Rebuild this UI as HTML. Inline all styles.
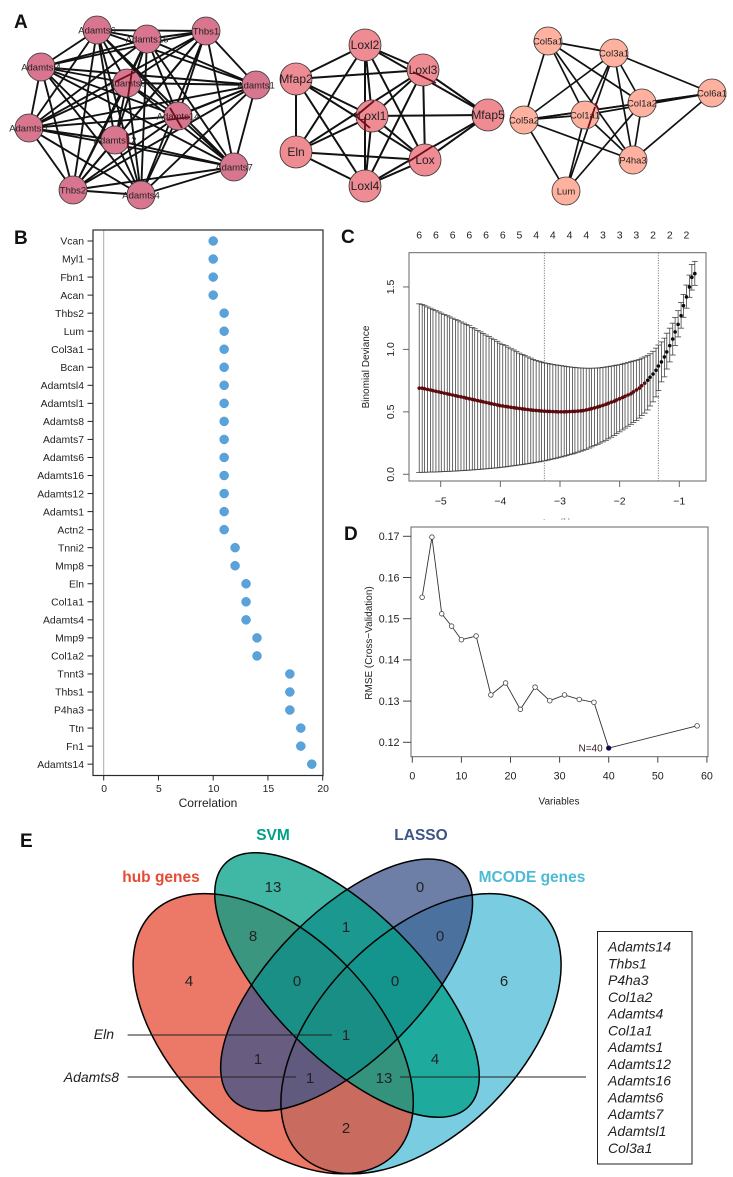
<!DOCTYPE html>
<html lang="en">
<head>
<meta charset="utf-8">
<title>Hub gene figure</title>
<style>
html,body{margin:0;padding:0;background:#fff;width:733px;height:1177px;overflow:hidden}
svg{display:block;position:absolute;left:0;top:0;font-family:"Liberation Sans",sans-serif;filter:blur(.3px)}
.letter{font-size:19px;font-weight:bold;fill:#111}
.venn-num{font-size:15px;fill:#222;text-anchor:middle}
.gene{font-size:14px;font-style:italic;fill:#222}
.venn-title{font-size:15.5px;font-weight:bold;text-anchor:middle}
</style>
</head>
<body>
<svg id="fig" width="733" height="1177" viewBox="0 0 733 1177" xmlns="http://www.w3.org/2000/svg">
  <defs>
    <clipPath id="cropXTitle"><rect x="530" y="516" width="50" height="3.5"/></clipPath>
  </defs>
  <rect width="733" height="1177" fill="#fff"/>
  <text class="letter" x="14" y="28">A</text>
  <text class="letter" x="14" y="244">B</text>
  <text class="letter" x="341" y="243">C</text>
  <text class="letter" x="344" y="540">D</text>
  <text class="letter" x="20" y="847">E</text>

  <g id="networks"></g>
  <g stroke="#6a0f1c" stroke-width="1.8" fill="none">
    <line x1="115" y1="82" x2="137" y2="71"/>
    <line x1="132" y1="71" x2="128" y2="97"/>
    <line x1="170" y1="108" x2="182" y2="128"/>
    <line x1="167" y1="120" x2="190" y2="117"/>
    <line x1="127" y1="133" x2="128" y2="147"/>
    <line x1="374" y1="101" x2="356" y2="116"/>
    <line x1="356" y1="116" x2="370" y2="128"/>
    <line x1="365" y1="117" x2="365" y2="131"/>
    <line x1="408" y1="162" x2="433" y2="146"/>
    <line x1="413" y1="72" x2="436" y2="83"/>
    <line x1="595" y1="103" x2="599" y2="110"/>
    <line x1="595" y1="107" x2="588" y2="128"/>
  </g>
  <g id="panelB"></g>
  <g id="panelC"></g>
  <text clip-path="url(#cropXTitle)" x="557" y="526" text-anchor="middle" font-size="10" fill="#333">Log(λ)</text>
  <g id="panelD"></g>

  <g id="venn">
    <ellipse cx="421" cy="1033.7" rx="171" ry="100" transform="rotate(-45 421 1033.7)" fill="#4DBBD5" fill-opacity=".75"/>
    <ellipse cx="273.2" cy="1033.7" rx="171" ry="100" transform="rotate(45 273.2 1033.7)" fill="#E64B35" fill-opacity=".75"/>
    <ellipse cx="346.6" cy="985" rx="162" ry="74" transform="rotate(-45 346.6 985)" fill="#3C5488" fill-opacity=".75"/>
    <ellipse cx="347" cy="985" rx="172" ry="73.5" transform="rotate(45 347 985)" fill="#00A087" fill-opacity=".75"/>
    <g fill="none" stroke="#000" stroke-width="1.5">
      <ellipse cx="421" cy="1033.7" rx="171" ry="100" transform="rotate(-45 421 1033.7)"/>
      <ellipse cx="273.2" cy="1033.7" rx="171" ry="100" transform="rotate(45 273.2 1033.7)"/>
      <ellipse cx="346.6" cy="985" rx="162" ry="74" transform="rotate(-45 346.6 985)"/>
      <ellipse cx="347" cy="985" rx="172" ry="73.5" transform="rotate(45 347 985)"/>
    </g>
    <text class="venn-title" x="273" y="840" fill="#00A087">SVM</text>
    <text class="venn-title" x="421" y="840" fill="#3C5488">LASSO</text>
    <text class="venn-title" x="161" y="882" fill="#E64B35">hub genes</text>
    <text class="venn-title" x="532" y="882" fill="#4DBBD5">MCODE genes</text>
    <text class="venn-num" x="273" y="892">13</text>
    <text class="venn-num" x="420" y="892">0</text>
    <text class="venn-num" x="253" y="941">8</text>
    <text class="venn-num" x="346" y="932">1</text>
    <text class="venn-num" x="440" y="941">0</text>
    <text class="venn-num" x="189" y="986">4</text>
    <text class="venn-num" x="297" y="986">0</text>
    <text class="venn-num" x="395" y="986">0</text>
    <text class="venn-num" x="504" y="986">6</text>
    <text class="venn-num" x="346" y="1040">1</text>
    <text class="venn-num" x="258" y="1064">1</text>
    <text class="venn-num" x="435" y="1064">4</text>
    <text class="venn-num" x="310" y="1083">1</text>
    <text class="venn-num" x="384" y="1083">13</text>
    <text class="venn-num" x="346" y="1133">2</text>
    <line x1="127.6" y1="1035" x2="332" y2="1035" stroke="#222" stroke-width="1"/>
    <line x1="127.6" y1="1077" x2="296" y2="1077" stroke="#222" stroke-width="1"/>
    <line x1="400" y1="1077" x2="586" y2="1077" stroke="#222" stroke-width="1"/>
    <text class="gene" x="114" y="1039" text-anchor="end">Eln</text>
    <text class="gene" x="119" y="1082" text-anchor="end">Adamts8</text>
    <rect x="597.5" y="931.5" width="94.5" height="232.5" fill="#fff" stroke="#222" stroke-width="1"/>
    <g>
      <text class="gene" x="608" y="951.5">Adamts14</text>
      <text class="gene" x="608" y="968.3">Thbs1</text>
      <text class="gene" x="608" y="985">P4ha3</text>
      <text class="gene" x="608" y="1001.8">Col1a2</text>
      <text class="gene" x="608" y="1018.6">Adamts4</text>
      <text class="gene" x="608" y="1035.4">Col1a1</text>
      <text class="gene" x="608" y="1052.1">Adamts1</text>
      <text class="gene" x="608" y="1068.9">Adamts12</text>
      <text class="gene" x="608" y="1085.7">Adamts16</text>
      <text class="gene" x="608" y="1102.4">Adamts6</text>
      <text class="gene" x="608" y="1119.2">Adamts7</text>
      <text class="gene" x="608" y="1136">Adamtsl1</text>
      <text class="gene" x="608" y="1152.8">Col3a1</text>
    </g>
  </g>
</svg>

<script>
// ---------- Panel B data ----------
const corrGenes = ["Vcan","Myl1","Fbn1","Acan","Thbs2","Lum","Col3a1","Bcan","Adamtsl4","Adamtsl1","Adamts8","Adamts7","Adamts6","Adamts16","Adamts12","Adamts1","Actn2","Tnni2","Mmp8","Eln","Col1a1","Adamts4","Mmp9","Col1a2","Tnnt3","Thbs1","P4ha3","Ttn","Fn1","Adamts14"];
const corrValues = [10,10,10,10,11,11,11,11,11,11,11,11,11,11,11,11,11,12,12,13,13,13,14,14,17,17,17,18,18,19];
const corrTicks = [0,5,10,15,20];

// ---------- Panel C data ----------
const logLambda = [-5.36,-5.31,-5.27,-5.22,-5.17,-5.13,-5.08,-5.03,-4.99,-4.94,-4.89,-4.85,-4.80,-4.75,-4.71,-4.66,-4.61,-4.57,-4.52,-4.47,-4.43,-4.38,-4.33,-4.29,-4.24,-4.19,-4.15,-4.10,-4.05,-4.01,-3.96,-3.91,-3.87,-3.82,-3.77,-3.73,-3.68,-3.63,-3.59,-3.54,-3.49,-3.45,-3.40,-3.35,-3.31,-3.26,-3.21,-3.17,-3.12,-3.07,-3.03,-2.98,-2.93,-2.89,-2.84,-2.79,-2.75,-2.70,-2.65,-2.61,-2.56,-2.51,-2.47,-2.42,-2.37,-2.33,-2.28,-2.23,-2.19,-2.14,-2.09,-2.05,-2.00,-1.95,-1.91,-1.86,-1.81,-1.77,-1.72,-1.67,-1.63,-1.58,-1.53,-1.49,-1.44,-1.39,-1.35,-1.30,-1.25,-1.21,-1.16,-1.11,-1.07,-1.02,-0.97,-0.93,-0.88,-0.83,-0.79,-0.74];
const devMean = [.69,.69,.685,.68,.675,.67,.665,.66,.655,.65,.645,.64,.635,.63,.625,.62,.615,.61,.605,.60,.595,.59,.585,.58,.575,.57,.565,.56,.555,.55,.547,.543,.54,.536,.533,.53,.527,.524,.521,.518,.515,.513,.511,.509,.507,.505,.504,.503,.502,.501,.50,.50,.50,.501,.502,.503,.504,.506,.508,.51,.515,.52,.526,.532,.538,.545,.552,.56,.568,.577,.585,.595,.605,.615,.625,.635,.645,.66,.675,.69,.71,.73,.753,.777,.803,.833,.867,.90,.94,.98,1.03,1.083,1.14,1.20,1.27,1.35,1.42,1.50,1.577,1.607];
const devUpper = [1.365,1.36,1.35,1.34,1.33,1.32,1.31,1.30,1.29,1.28,1.27,1.26,1.25,1.24,1.23,1.22,1.21,1.20,1.19,1.175,1.165,1.152,1.14,1.128,1.115,1.103,1.09,1.078,1.065,1.05,1.04,1.03,1.018,1.005,.995,.982,.97,.96,.95,.94,.93,.92,.912,.905,.898,.892,.888,.884,.88,.876,.873,.87,.866,.863,.86,.857,.855,.853,.851,.85,.849,.849,.849,.85,.851,.853,.856,.859,.862,.866,.87,.874,.878,.883,.889,.895,.901,.907,.913,.92,.93,.94,.95,.965,.985,1.01,1.035,1.06,1.09,1.13,1.17,1.21,1.255,1.31,1.375,1.44,1.515,1.595,1.68,1.705];
const devLower = [.015,.016,.016,.017,.018,.018,.019,.02,.021,.022,.023,.024,.025,.026,.028,.029,.03,.032,.033,.035,.037,.038,.04,.042,.044,.046,.048,.05,.052,.055,.057,.06,.063,.066,.069,.072,.075,.078,.082,.085,.089,.092,.096,.10,.104,.108,.113,.118,.123,.128,.133,.139,.145,.15,.157,.163,.17,.177,.185,.193,.20,.21,.22,.23,.24,.25,.26,.272,.284,.297,.31,.325,.34,.355,.37,.385,.40,.415,.43,.45,.47,.49,.515,.547,.58,.62,.67,.74,.78,.843,.90,.955,1.03,1.10,1.17,1.257,1.33,1.417,1.475,1.513];
const cXTicks = [-5,-4,-3,-2,-1];
const cYTicks = [0,0.5,1,1.5];
const cTopAt = [-5.36,-5.08,-4.80,-4.52,-4.24,-3.96,-3.68,-3.40,-3.12,-2.84,-2.56,-2.28,-2.00,-1.72,-1.44,-1.16,-0.88];
const cTopCounts = [6,6,6,6,6,6,5,4,4,4,4,3,3,3,2,2,2];
const cLambdaMarks = [-3.263,-1.352];

// ---------- Panel D data ----------
const rfeVariables = [2,4,6,8,10,13,16,19,22,25,28,31,34,37,40,58];
const rfeRmse = [.1552,.1698,.1512,.1482,.1449,.1458,.1315,.1344,.128,.1334,.1301,.1315,.1304,.1297,.1186,.124];
const dXTicks = [0,10,20,30,40,50,60];
const dYTicks = [.12,.13,.14,.15,.16,.17];
const dBestVariables = 40;

// ---------- Panel A network membership ----------
const net1Genes = ["Adamts6","Adamts16","Thbs1","Adamtsl4","Adamts8","Adamts1","Adamts14","Adamtsl1","Adamts12","Adamts7","Thbs2","Adamts4"];
const net2Edges = [["Loxl2","Mfap2"],["Loxl2","Loxl3"],["Loxl2","Loxl1"],["Loxl2","Mfap5"],["Loxl2","Eln"],["Loxl2","Lox"],["Loxl2","Loxl4"],["Mfap2","Loxl3"],["Mfap2","Loxl1"],["Mfap2","Eln"],["Mfap2","Lox"],["Mfap2","Loxl4"],["Loxl3","Loxl1"],["Loxl3","Mfap5"],["Loxl3","Eln"],["Loxl3","Lox"],["Loxl3","Loxl4"],["Loxl1","Mfap5"],["Loxl1","Eln"],["Loxl1","Lox"],["Loxl1","Loxl4"],["Mfap5","Lox"],["Mfap5","Loxl4"],["Eln","Lox"],["Eln","Loxl4"],["Lox","Loxl4"]];
const net3Edges = [["Col5a1","Col3a1"],["Col5a1","Col5a2"],["Col5a1","Col1a1"],["Col5a1","Col1a2"],["Col5a1","P4ha3"],["Col3a1","Col5a2"],["Col3a1","Col1a1"],["Col3a1","Col1a2"],["Col3a1","P4ha3"],["Col3a1","Col6a1"],["Col3a1","Lum"],["Col6a1","Col5a2"],["Col6a1","Col1a1"],["Col6a1","P4ha3"],["Col6a1","Col1a2"],["Col1a2","Col5a2"],["Col1a2","Lum"],["Col1a2","P4ha3"],["Col1a1","P4ha3"],["Col1a1","Lum"],["Col5a2","P4ha3"],["Col5a2","Lum"],["Col5a2","Col1a1"]];

const NS = "http://www.w3.org/2000/svg";
function make(tag, parent, attrs, txt){
  const el = document.createElementNS(NS, tag);
  for (const k in attrs) el.setAttribute(k, attrs[k]);
  if (txt !== undefined) el.textContent = txt;
  parent.appendChild(el);
  return el;
}
function fmtMinus(v){ return String(v).replace("-", "\u2212"); }

// ===== Panel A =====
(function(){
  const root = document.getElementById("networks");
  const layout = {
    Adamts6:[97,30],Adamts16:[147,39],Thbs1:[206,31],Adamtsl4:[41,67],Adamts8:[127,83],Adamts1:[256,85],Adamts14:[178,116],Adamtsl1:[29,128],Adamts12:[115,140],Adamts7:[234,167],Thbs2:[73,190],Adamts4:[141,195],
    Loxl2:[365,45],Mfap2:[296,79],Loxl3:[423,70],Loxl1:[372,116],Mfap5:[488,115],Eln:[296,152],Lox:[425,160],Loxl4:[365,186],
    Col5a1:[548,41],Col3a1:[614,53],Col6a1:[712,93],Col1a2:[642,103],Col1a1:[585,115],Col5a2:[524,120],P4ha3:[633,160],Lum:[566,191]
  };
  const net1Edges = [];
  net1Genes.forEach((a,i)=>net1Genes.forEach((b,j)=>{ if(j>i) net1Edges.push([a,b]); }));
  const groups = [
    {edges:net1Edges, genes:net1Genes, r:14, fill:"#d9768f", fs:9.5, sw:1.9, name:"network-adamts"},
    {edges:net2Edges, genes:["Loxl2","Mfap2","Loxl3","Loxl1","Mfap5","Eln","Lox","Loxl4"], r:16, fill:"#ef8b93", fs:12, sw:2, name:"network-lox"},
    {edges:net3Edges, genes:["Col5a1","Col3a1","Col6a1","Col1a2","Col1a1","Col5a2","P4ha3","Lum"], r:14, fill:"#ffb1a0", fs:9.5, sw:1.7, name:"network-collagen"}
  ];
  groups.forEach(g=>{
    const grp = make("g", root, {});
    
    
    g.edges.forEach(e=>{
      const a = layout[e[0]], b = layout[e[1]];
      const ln = make("line", grp, {x1:a[0],y1:a[1],x2:b[0],y2:b[1],stroke:"#111","stroke-width":g.sw});
      
      
    });
    g.genes.forEach(n=>{
      const p = layout[n];
      const c = make("circle", grp, {cx:p[0],cy:p[1],r:g.r,fill:g.fill,stroke:"#333","stroke-width":.8});
      
      
    });
    g.genes.forEach(n=>{
      const p = layout[n];
      const t = make("text", grp, {x:p[0],y:p[1]+g.fs*.35,"text-anchor":"middle","font-size":g.fs,fill:"#222"}, n);
      
      
    });
  });
})();

// ===== Panel B =====
(function(){
  const root = document.getElementById("panelB");
  const L=93, R=323, T=230, B=775.5;
  const x = v => 103.7 + v*10.95;
  const y = i => 241 + i*18.04;
  const zero = make("line", root, {x1:x(0),x2:x(0),y1:T,y2:B,stroke:"#aaa","stroke-width":1});
  
  
  corrGenes.forEach((g,i)=>{
    const tk = make("line", root, {x1:L-5.5,x2:L,y1:y(i),y2:y(i),stroke:"#222","stroke-width":1});
    
    
    const lb = make("text", root, {x:84,y:y(i)+3.7,"text-anchor":"end","font-size":10.4,fill:"#222"}, g);
    
    
    const dot = make("circle", root, {cx:x(corrValues[i]),cy:y(i),r:4.5,fill:"#5aa3da",stroke:"#4a96d2","stroke-width":.5});
    
    
  });
  const frame = make("rect", root, {x:L,y:T,width:R-L,height:B-T,fill:"none",stroke:"#2a2a2a","stroke-width":1.2});
  
  
  corrTicks.forEach(v=>{
    const tk = make("line", root, {x1:x(v),x2:x(v),y1:B,y2:B+5,stroke:"#222","stroke-width":1});
    
    
    const lb = make("text", root, {x:x(v)+.5,y:792,"text-anchor":"middle","font-size":10.4,fill:"#222"}, String(v));
    
    
  });
  const title = make("text", root, {x:208,y:807,"text-anchor":"middle","font-size":12,fill:"#222"}, "Correlation");
  
  
})();

// ===== Panel C =====
(function(){
  const root = document.getElementById("panelC");
  const L=409, R=706, T=252.7, B=481;
  const x = v => 440.7 + (v+5)*59.65;
  const y = v => 474.3 - v*124.9;
  cLambdaMarks.forEach(v=>{
    const ln = make("line", root, {x1:x(v),x2:x(v),y1:T,y2:B,stroke:"#444","stroke-width":.8,"stroke-dasharray":"1 1.5"});
    
    
  });
  logLambda.forEach((v,i)=>{
    const px = x(v);
    const bar = make("line", root, {x1:px,x2:px,y1:y(devUpper[i]),y2:y(devLower[i]),stroke:"#444","stroke-width":.8});
    
    
    const capU = make("line", root, {x1:px-3,x2:px+3,y1:y(devUpper[i]),y2:y(devUpper[i]),stroke:"#444","stroke-width":.8});
    
    
    const capL = make("line", root, {x1:px-3,x2:px+3,y1:y(devLower[i]),y2:y(devLower[i]),stroke:"#444","stroke-width":.8});
    
    
  });
  logLambda.forEach((v,i)=>{
    const pt = make("circle", root, {cx:x(v),cy:y(devMean[i]),r:1.8,fill:i<82?"#5c0a0e":"#0c0c0c"});
    
    
  });
  const frame = make("rect", root, {x:L,y:T,width:R-L,height:B-T,fill:"none",stroke:"#666","stroke-width":1});
  
  
  cXTicks.forEach(v=>{
    const tk = make("line", root, {x1:x(v),x2:x(v),y1:B,y2:B+6,stroke:"#666","stroke-width":1});
    
    
    const lb = make("text", root, {x:x(v),y:504.5,"text-anchor":"middle","font-size":10.5,fill:"#222"}, fmtMinus(v));
    
    
  });
  cYTicks.forEach(v=>{
    const tk = make("line", root, {x1:L-6,x2:L,y1:y(v),y2:y(v),stroke:"#666","stroke-width":1});
    
    
    const lb = make("text", root, {x:0,y:0,transform:"translate(394,"+y(v)+") rotate(-90)","text-anchor":"middle","font-size":10.5,fill:"#222"}, v.toFixed(1));
    
    
  });
  cTopAt.forEach((v,i)=>{
    const lb = make("text", root, {x:x(v),y:238.5,"text-anchor":"middle","font-size":10.5,fill:"#222"}, String(cTopCounts[i]));
    
    
  });
  const yt = make("text", root, {x:0,y:0,transform:"translate(369,367) rotate(-90)","text-anchor":"middle","font-size":10,fill:"#222"}, "Binomial Deviance");
  
  
})();

// ===== Panel D =====
(function(){
  const root = document.getElementById("panelD");
  const L=411, R=708, T=527, B=756.7;
  const x = v => 412.3 + v*4.91;
  const y = v => 742.3 - (v-.12)*4120;
  const frame = make("rect", root, {x:L,y:T,width:R-L,height:B-T,fill:"none",stroke:"#666","stroke-width":1});
  
  
  const pts = rfeVariables.map((v,i)=>x(v)+","+y(rfeRmse[i])).join(" ");
  const line = make("polyline", root, {points:pts,fill:"none",stroke:"#333","stroke-width":.9});
  
  
  rfeVariables.forEach((v,i)=>{
    const best = v === dBestVariables;
    const pt = make("circle", root, {cx:x(v),cy:y(rfeRmse[i]),r:best?2.2:2.3,fill:best?"#0a0a5a":"#fff",stroke:best?"#0a0a5a":"#444","stroke-width":.8});
    
    
  });
  const note = make("text", root, {x:x(dBestVariables)-6,y:y(rfeRmse[rfeVariables.indexOf(dBestVariables)])+3.3,"text-anchor":"end","font-size":10,fill:"#331a1a"}, "N="+dBestVariables);
  
  
  dXTicks.forEach(v=>{
    const tk = make("line", root, {x1:x(v),x2:x(v),y1:B,y2:B+6,stroke:"#444","stroke-width":1});
    
    
    const lb = make("text", root, {x:x(v),y:779.5,"text-anchor":"middle","font-size":10.7,fill:"#222"}, String(v));
    
    
  });
  dYTicks.forEach(v=>{
    const tk = make("line", root, {x1:L-8,x2:L,y1:y(v),y2:y(v),stroke:"#444","stroke-width":1});
    
    
    const lb = make("text", root, {x:399.5,y:y(v)+3.8,"text-anchor":"end","font-size":10.7,fill:"#222"}, v.toFixed(2));
    
    
  });
  const xt = make("text", root, {x:559,y:804.5,"text-anchor":"middle","font-size":10,fill:"#222"}, "Variables");
  
  
  const yt = make("text", root, {x:0,y:0,transform:"translate(372,643) rotate(-90)","text-anchor":"middle","font-size":10,fill:"#222"}, "RMSE (Cross\u2212Validation)");
  
  
})();
</script>
</body>
</html>
